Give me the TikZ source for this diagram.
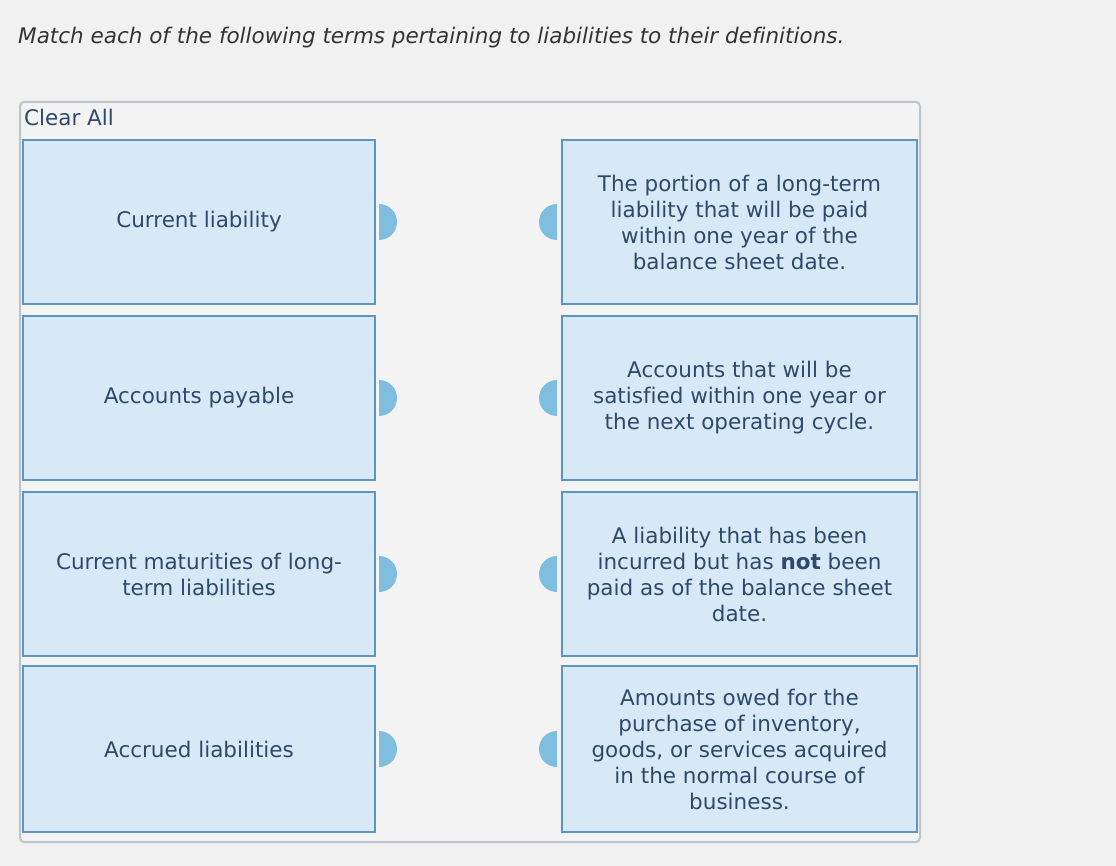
\documentclass[tikz,border=0pt]{standalone}
\usepackage{fontspec}
\setmainfont[Ligatures=NoCommon]{DejaVu Sans}
\definecolor{pagebg}{RGB}{241,241,241}
\definecolor{panelbg}{RGB}{243,243,243}
\definecolor{panelline}{RGB}{190,196,205}
\definecolor{boxfill}{RGB}{215,233,247}
\definecolor{boxline}{RGB}{92,149,190}
\definecolor{knobcol}{RGB}{128,190,224}
\definecolor{boxtext}{RGB}{46,73,106}
\definecolor{titletext}{RGB}{51,51,51}
\tikzset{
  card/.style={draw=boxline, line width=2pt, fill=boxfill, text=boxtext,
    align=center, inner sep=0pt, font=\fontsize{21.5}{26}\selectfont},
  lcard/.style={card, minimum width=352pt},
  rcard/.style={card, minimum width=355pt},
  knob/.style={fill=knobcol},
}
\begin{document}
\begin{tikzpicture}[x=1pt,y=-1pt]
\useasboundingbox[fill=pagebg] (0,0) rectangle (1116,866);
% title
\node[anchor=base west, inner sep=0pt, text=titletext,
  font=\fontsize{21.5}{26}\selectfont\itshape] (title) at (18,44)
  {Match each of the following terms pertaining to liabilities to their definitions.};
% panel
\draw[panelline, line width=2pt, fill=panelbg, rounded corners=4pt]
  (20,102) rectangle (920,842);
\node[anchor=base west, inner sep=0pt, text=boxtext,
  font=\fontsize{21.5}{26}\selectfont] (clear) at (24,126) {Clear All};
% left cards
\node[lcard, minimum height=164pt] (l1) at (199,222) {Current liability};
\node[lcard, minimum height=164pt] (l2) at (199,398) {Accounts payable};
\node[lcard, minimum height=164pt] (l3) at (199,574) {Current maturities of long-\\term liabilities};
\node[lcard, minimum height=166pt] (l4) at (199,749) {Accrued liabilities};
% right cards
\node[rcard, minimum height=164pt] (r1) at (739.5,222)
  {The portion of a long-term\\liability that will be paid\\within one year of the\\balance sheet date.};
\node[rcard, minimum height=164pt] (r2) at (739.5,398)
  {Accounts that will be\\satisfied within one year or\\the next operating cycle.};
\node[rcard, minimum height=164pt] (r3) at (739.5,574)
  {A liability that has been\\incurred but has \textbf{not} been\\paid as of the balance sheet\\date.};
\node[rcard, minimum height=166pt] (r4) at (739.5,749)
  {Amounts owed for the\\purchase of inventory,\\goods, or services acquired\\in the normal course of\\business.};
% knobs
\foreach \n in {l1,l2,l3,l4}{
  \fill[knob] ([xshift=3pt,yshift=18pt]\n.east)
    arc[start angle=90, end angle=-90, radius=18pt] -- cycle;
}
\foreach \n in {r1,r2,r3,r4}{
  \fill[knob] ([xshift=-4pt,yshift=18pt]\n.west)
    arc[start angle=90, end angle=270, radius=18pt] -- cycle;
}
\end{tikzpicture}
\end{document}
